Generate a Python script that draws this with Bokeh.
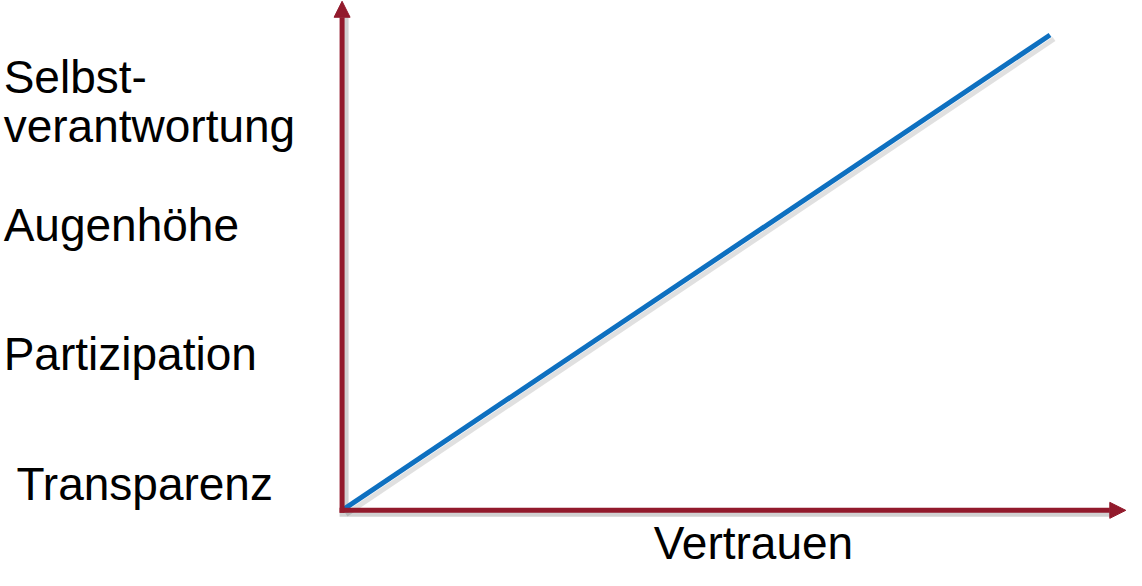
from bokeh.plotting import figure
from bokeh.models import Range1d, Arrow, NormalHead, ColumnDataSource
from bokeh.core.properties import value
from bokeh.embed import file_html
from bokeh.resources import INLINE

# ---- data ----
trust = [0, 10]          # Vertrauen
level = [0, 10]          # Stufe
labels = ["Selbst-\nverantwortung", "Augenhöhe", "Partizipation", "Transparenz"]
label_y = [8.78, 5.66, 2.95, 0.21]
label_x = [-4.78, -4.78, -4.78, -4.60]
x_title = "Vertrauen"
x_title_pos = (5.81, -1.14)
x_axis_end = 11.07
y_axis_end = 10.71

RED = "#921A2C"
BLUE = "#0E70C0"
SHADOW = "#000000"
FONT = "Liberation Sans"
FS = "46px"
BASE_FIX = -16   # px correction of the svg text baseline

W, H = 1126, 570
xr = Range1d(-4.825, 11.08)
yr = Range1d(-1.2656, 10.726)
px_x = (xr.end - xr.start) / W   # data per pixel
px_y = (yr.end - yr.start) / H

p = figure(width=W, height=H, x_range=xr, y_range=yr, output_backend="svg",
           toolbar_location=None, min_border=0, outline_line_color=None,
           background_fill_color="white", border_fill_color="white")
p.axis.visible = False
p.grid.visible = False

# shadows
sh = 4
p.line([trust[0] + sh * px_x, trust[1] + sh * px_x], [level[0] - sh * px_y, level[1] - sh * px_y],
       line_width=5, line_color=SHADOW, line_alpha=0.12)
p.line([-2.5 * px_x, x_axis_end - 14 * px_x], [-sh * px_y, -sh * px_y],
       line_width=5, line_color=SHADOW, line_alpha=0.18)
p.line([sh * px_x, sh * px_x], [-2.5 * px_y, y_axis_end - 16 * px_y],
       line_width=5, line_color=SHADOW, line_alpha=0.18)

# axes
p.add_layout(Arrow(end=NormalHead(size=16, fill_color=RED, line_color=RED),
                   x_start=-2.5 * px_x, y_start=0, x_end=x_axis_end, y_end=0,
                   line_color=RED, line_width=5))
p.add_layout(Arrow(end=NormalHead(size=16, fill_color=RED, line_color=RED),
                   x_start=0, y_start=-2.5 * px_y, x_end=0, y_end=y_axis_end,
                   line_color=RED, line_width=5))

# trend line
p.line(trust, level, line_width=5, line_color=BLUE)

# labels (split multi-line labels)
tx, ty, tt, toff = [], [], [], []
for lab, x, y in zip(labels, label_x, label_y):
    for i, part in enumerate(lab.split("\n")):
        tx.append(x)
        ty.append(y)
        tt.append(part)
        toff.append(i * 49.5 + BASE_FIX)
src = ColumnDataSource(dict(x=tx, y=ty, text=tt, yo=toff))
p.text(x="x", y="y", text="text", y_offset="yo", source=src,
       text_font=value(FONT), text_font_size=FS, text_color="black",
       text_align="left", text_baseline="alphabetic")

p.text(x=[x_title_pos[0]], y=[x_title_pos[1]], text=[x_title], y_offset=BASE_FIX - 6,
       text_font=value(FONT), text_font_size=FS, text_color="black",
       text_align="center", text_baseline="alphabetic")

open("out.html", "w").write(file_html(p, INLINE))
